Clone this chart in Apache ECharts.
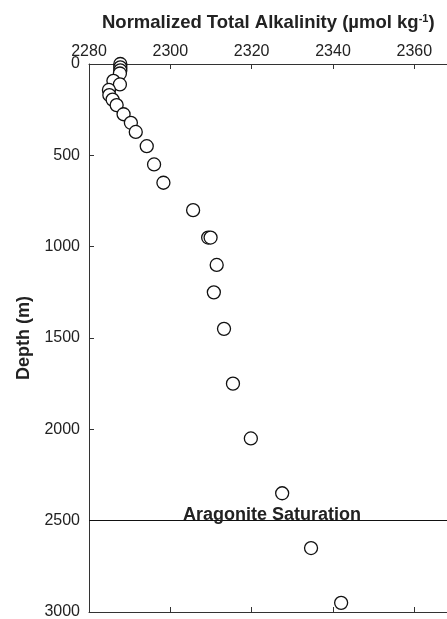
<!DOCTYPE html>
<html>
<head>
<meta charset="utf-8">
<script src="https://cdn.jsdelivr.net/npm/echarts@6/dist/echarts.min.js"></script>
<style>
  html, body { margin: 0; padding: 0; background: #fff; }
  #chart { width: 447px; height: 619px; }
</style>
</head>
<body>
<div id="chart"></div>
<script>
// normalized total alkalinity (umol/kg) vs depth (m)
const alkalinity = [2287.7, 2287.7, 2287.7, 2287.6, 2286.0, 2287.6, 2284.9, 2285.0, 2285.8,
  2286.8, 2288.5, 2290.3, 2291.5, 2294.2, 2296.0, 2298.3, 2305.6, 2309.3, 2309.9,
  2311.4, 2310.7, 2313.2, 2315.4, 2319.8, 2327.5, 2334.6, 2342.0];
const depth = [0, 18, 35, 52, 92, 112, 142, 170, 195,
  225, 275, 322, 372, 450, 550, 650, 800, 950, 950,
  1100, 1250, 1450, 1750, 2050, 2350, 2650, 2950];
const saturationDepth = 2500;
const xTicks = [2280, 2300, 2320, 2340, 2360];
const yTicks = [0, 500, 1000, 1500, 2000, 2500, 3000];

const font = 'Liberation Sans, Arial, Helvetica, sans-serif';
const ink = '#222';
const axisColor = '#333';

const points = alkalinity.map((v, i) => [v, depth[i]]);

const chart = echarts.init(document.getElementById('chart'), null, { renderer: 'canvas' });

const baseX = {
  type: 'value',
  min: xTicks[0],
  max: 2370,
  interval: 20,
  splitLine: { show: false },
  axisLine: { show: true, lineStyle: { color: axisColor, width: 1 } },
  axisTick: { show: true, inside: true, length: 5, lineStyle: { color: axisColor } },
};

chart.setOption({
  animation: false,
  backgroundColor: '#fff',
  title: {
    left: 97,
    top: 8,
    text: '{a|Normalized Total Alkalinity (µmol kg}{s|-1}{a|)}',
    textStyle: {
      rich: {
        a: { fontFamily: font, fontWeight: 'bold', fontSize: 18.5, color: ink },
        s: { fontFamily: font, fontWeight: 'bold', fontSize: 11, color: ink, verticalAlign: 'top', padding: [0, 0, 9, 0] },
      },
    },
  },
  grid: { left: 89, top: 64, right: -8, bottom: 7, outerBoundsMode: 'none' },
  xAxis: [
    Object.assign({}, baseX, {
      position: 'top',
      axisLabel: {
        show: true,
        margin: 4,
        fontFamily: font,
        fontSize: 16,
        color: ink,
        formatter: v => (xTicks.includes(v) ? String(v) : ''),
      },
    }),
    Object.assign({}, baseX, {
      position: 'bottom',
      axisLabel: { show: false },
    }),
  ],
  yAxis: {
    type: 'value',
    inverse: true,
    min: yTicks[0],
    max: yTicks[yTicks.length - 1],
    interval: 500,
    name: 'Depth (m)',
    nameLocation: 'middle',
    nameGap: 50,
    nameTextStyle: { fontFamily: font, fontWeight: 'bold', fontSize: 18, color: ink },
    splitLine: { show: false },
    axisLine: { show: true, lineStyle: { color: axisColor, width: 1 } },
    axisTick: { show: true, inside: true, length: 5, lineStyle: { color: axisColor } },
    axisLabel: { margin: 9, fontFamily: font, fontSize: 16, color: ink, formatter: v => String(v) },
  },
  series: [
    {
      type: 'scatter',
      xAxisIndex: 0,
      data: points,
      symbol: 'circle',
      symbolSize: 13,
      itemStyle: { color: '#fff', borderColor: '#111', borderWidth: 1.3, opacity: 1 },
      markLine: {
        silent: true,
        symbol: 'none',
        animation: false,
        lineStyle: { color: '#111', width: 1, type: 'solid' },
        label: {
          show: true,
          position: 'middle',
          distance: -3,
          formatter: 'Aragonite Saturation',
          fontFamily: font,
          fontWeight: 'bold',
          fontSize: 18,
          color: ink,
        },
        data: [{ yAxis: saturationDepth }],
      },
    },
  ],
});
</script>
</body>
</html>
